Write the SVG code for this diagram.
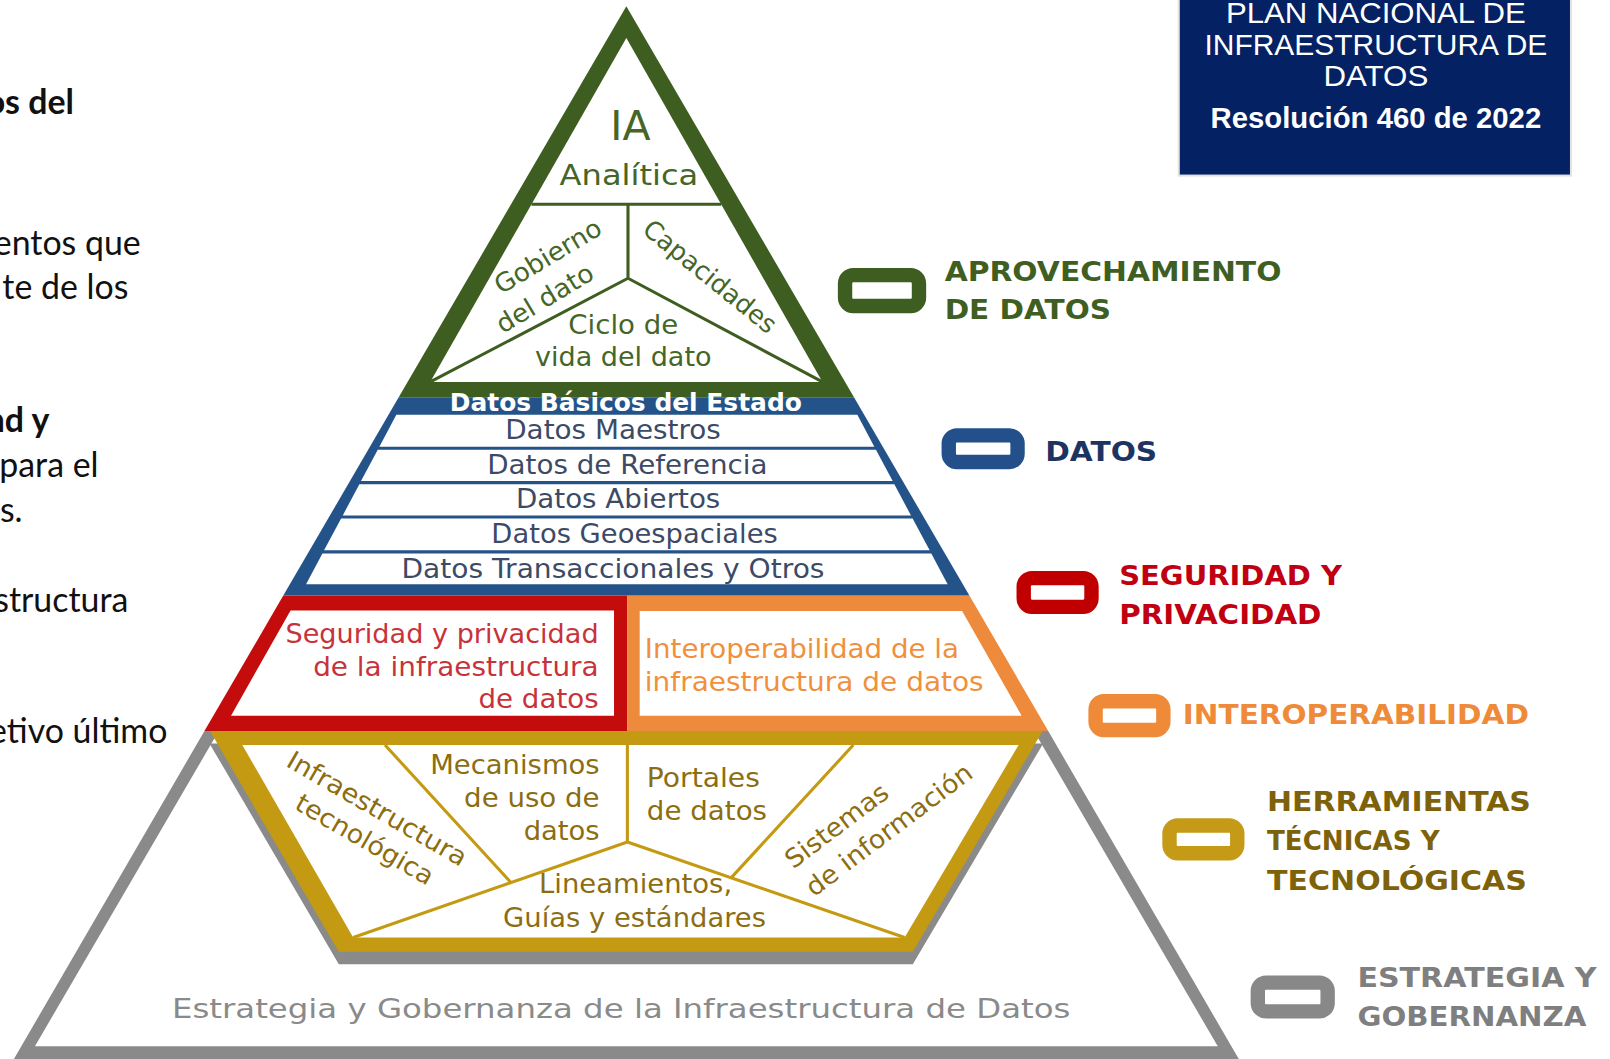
<svg xmlns="http://www.w3.org/2000/svg" width="1610" height="1059" viewBox="0 0 1610 1059">
<style>
.lt{font-family:Lato,"Liberation Sans",sans-serif;font-size:33px;fill:#111}
.ltb{font-family:Lato,"Liberation Sans",sans-serif;font-size:33px;font-weight:bold;fill:#111}
.pt{font-family:"DejaVu Sans",sans-serif;font-size:25px}
.gr{fill:#456628}.bl{fill:#3c4a66}.rd{fill:#c8323a}.or{fill:#f0903c}.gd{fill:#8c6d10}.gy{fill:#8a8a8a}
.lg{font-family:"DejaVu Sans",sans-serif;font-weight:bold;font-size:26px}
.ttl{font-family:"Liberation Sans",Arial,sans-serif;fill:#fff;text-anchor:middle}
.icon{fill:#fff;stroke-width:14}
.gl{stroke:#3e5d20;stroke-width:3;fill:none}
.gdl{stroke:#c49a12;stroke-width:3;fill:none}
</style>
<rect width="1610" height="1059" fill="#fff"/>
<g transform="scale(1.02679)">
<g id="left-text">
<text class="ltb" x="72" y="111" text-anchor="end">os del</text>
<text class="lt" x="137" y="248" text-anchor="end">entos que</text>
<text class="lt" x="125" y="291" text-anchor="end">te de los</text>
<text class="ltb" x="48" y="421" text-anchor="end">nd y</text>
<text class="lt" x="96" y="465" text-anchor="end">para el</text>
<text class="lt" x="22" y="508" text-anchor="end">s.</text>
<text class="lt" x="125" y="596" text-anchor="end">structura</text>
<text class="lt" x="163" y="724" text-anchor="end">etivo último</text>
</g>
<g id="title-box">
<rect x="1148" y="-4" width="382" height="175" fill="#032163" stroke="#e2e2e2" stroke-width="2"/>
<text class="ttl" x="1340" y="22" font-size="28" textLength="292" lengthAdjust="spacingAndGlyphs">PLAN NACIONAL DE</text>
<text class="ttl" x="1340" y="53.6" font-size="28" textLength="334" lengthAdjust="spacingAndGlyphs">INFRAESTRUCTURA DE</text>
<text class="ttl" x="1340" y="84" font-size="28" textLength="102" lengthAdjust="spacingAndGlyphs">DATOS</text>
<text class="ttl" x="1340" y="125" font-size="28" font-weight="bold" textLength="322" lengthAdjust="spacingAndGlyphs">Resolución 460 de 2022</text>
</g>
<g id="layer-gobernanza">
<polygon points="199.1,712 1020.9,712 1208,1034 12,1034" fill="#8a8a8a"/>
<polygon points="213,712 1007,712 1186,1019 34,1019" fill="#fff"/>
<text class="pt gy" x="605" y="991" font-size="28" text-anchor="middle" textLength="875" lengthAdjust="spacingAndGlyphs">Estrategia y Gobernanza de la Infraestructura de Datos</text>
</g>
<g id="layer-herramientas">
<polygon points="204,724 1016,724 889,939 330,939" fill="#8a8a8a"/>
<polygon points="204,711 1016,711 889,927 330,927" fill="#c49a12"/>
<polygon points="236,725.6 992,725.6 881,913 344,913" fill="#fff"/>
<path class="gdl" d="M611,725.6V820M611,820L344,913M611,820L881,913M375,725.6L498,860M831,725.6L712,855"/>
<g class="pt gd">
<text transform="translate(363,795) rotate(30)" text-anchor="middle" textLength="198" lengthAdjust="spacingAndGlyphs">Infraestructura</text>
<text transform="translate(351,825) rotate(30)" text-anchor="middle" textLength="151" lengthAdjust="spacingAndGlyphs">tecnológica</text>
<text x="584" y="754" text-anchor="end" textLength="165" lengthAdjust="spacingAndGlyphs">Mecanismos</text>
<text x="584" y="786" text-anchor="end" textLength="132" lengthAdjust="spacingAndGlyphs">de uso de</text>
<text x="584" y="818" text-anchor="end" textLength="74" lengthAdjust="spacingAndGlyphs">datos</text>
<text x="630" y="766" textLength="110" lengthAdjust="spacingAndGlyphs">Portales</text>
<text x="630" y="799" textLength="117" lengthAdjust="spacingAndGlyphs">de datos</text>
<text transform="translate(820,811) rotate(-37)" text-anchor="middle" textLength="119" lengthAdjust="spacingAndGlyphs">Sistemas</text>
<text transform="translate(871,815) rotate(-37)" text-anchor="middle" textLength="196" lengthAdjust="spacingAndGlyphs">de información</text>
<text x="619" y="870" text-anchor="middle" textLength="188" lengthAdjust="spacingAndGlyphs">Lineamientos,</text>
<text x="618" y="903" text-anchor="middle" textLength="256" lengthAdjust="spacingAndGlyphs">Guías y estándares</text>
</g>
</g>
<g id="layer-seguridad">
<polygon points="275.9,580 611,580 611,712 199.1,712" fill="#c40c0c"/>
<polygon points="283,594.5 598,594.5 598,697 225,697" fill="#fff"/>
<g class="pt rd">
<text x="583" y="626" text-anchor="end" textLength="305" lengthAdjust="spacingAndGlyphs">Seguridad y privacidad</text>
<text x="583" y="658" text-anchor="end" textLength="278" lengthAdjust="spacingAndGlyphs">de la infraestructura</text>
<text x="583" y="690" text-anchor="end" textLength="117" lengthAdjust="spacingAndGlyphs">de datos</text>
</g>
</g>
<g id="layer-interoperabilidad">
<polygon points="611,580 944.1,580 1020.9,712 611,712" fill="#ee8a3c"/>
<polygon points="623,595 937,595 995,697 623,697" fill="#fff"/>
<g class="pt or">
<text x="628" y="641" textLength="306" lengthAdjust="spacingAndGlyphs">Interoperabilidad de la</text>
<text x="628" y="673" textLength="330" lengthAdjust="spacingAndGlyphs">infraestructura de datos</text>
</g>
</g>
<g id="layer-datos">
<polygon points="388.3,387 831.7,387 944.1,580 275.9,580" fill="#245389"/>
<g fill="#fff">
<polygon points="386,404 835,404 851.5,435 369.5,435"/>
<polygon points="367.9,438 853.1,438 869.4,468.5 351.6,468.5"/>
<polygon points="350,471.5 871,471.5 887.2,502 333.8,502"/>
<polygon points="332.2,505 888.8,505 905.4,536 315.6,536"/>
<polygon points="314,539 907,539 922.9,569 298.1,569"/>
</g>
<g class="pt bl" text-anchor="middle">
<text x="597" y="428" textLength="210" lengthAdjust="spacingAndGlyphs">Datos Maestros</text>
<text x="611" y="462" textLength="273" lengthAdjust="spacingAndGlyphs">Datos de Referencia</text>
<text x="602" y="495" textLength="199" lengthAdjust="spacingAndGlyphs">Datos Abiertos</text>
<text x="618" y="529" textLength="279" lengthAdjust="spacingAndGlyphs">Datos Geoespaciales</text>
<text x="597" y="563" textLength="412" lengthAdjust="spacingAndGlyphs">Datos Transaccionales y Otros</text>
</g>
</g>
<g id="layer-aprovechamiento">
<polygon points="610,6 831.7,387 388.3,387" fill="#3e5d20"/>
<polygon points="610,37 801,372 419,372" fill="#fff"/>
<path class="gl" d="M517.6,199H702.4M611.6,199V271M611.6,271L419,372M611.6,271L801,372"/>
<g class="pt gr" text-anchor="middle">
<text x="614" y="136" font-size="40">IA</text>
<text x="612.5" y="180" font-size="27" textLength="135" lengthAdjust="spacingAndGlyphs">Analítica</text>
<text transform="translate(538,257) rotate(-31)" textLength="117" lengthAdjust="spacingAndGlyphs">Gobierno</text>
<text transform="translate(535,298) rotate(-31)" textLength="106" lengthAdjust="spacingAndGlyphs">del dato</text>
<text transform="translate(686,276) rotate(39)" textLength="159" lengthAdjust="spacingAndGlyphs">Capacidades</text>
<text x="607" y="325" textLength="107" lengthAdjust="spacingAndGlyphs">Ciclo de</text>
<text x="607" y="356" textLength="172" lengthAdjust="spacingAndGlyphs">vida del dato</text>
</g>
<text x="609.5" y="400" font-family="DejaVu Sans,sans-serif" font-weight="bold" font-size="24" fill="#fff" text-anchor="middle" textLength="343" lengthAdjust="spacingAndGlyphs">Datos Básicos del Estado</text>
</g>
<g id="legend-aprovechamiento">
<rect class="icon" x="823" y="268" width="72" height="30" rx="8" stroke="#3e5d20"/>
<text class="lg" x="920" y="274" fill="#3f5e22" textLength="328" lengthAdjust="spacingAndGlyphs">APROVECHAMIENTO</text>
<text class="lg" x="920" y="311" fill="#3f5e22" textLength="162" lengthAdjust="spacingAndGlyphs">DE DATOS</text>
</g>
<g id="legend-datos">
<rect class="icon" x="924" y="424" width="67" height="26" rx="8" stroke="#23508a"/>
<text class="lg" x="1018" y="449" fill="#1d3461" textLength="109" lengthAdjust="spacingAndGlyphs">DATOS</text>
</g>
<g id="legend-seguridad">
<rect class="icon" x="997" y="563" width="66" height="28" rx="8" stroke="#c00000"/>
<text class="lg" x="1090" y="570" fill="#c00012" textLength="217" lengthAdjust="spacingAndGlyphs">SEGURIDAD Y</text>
<text class="lg" x="1090" y="608" fill="#c00012" textLength="197" lengthAdjust="spacingAndGlyphs">PRIVACIDAD</text>
</g>
<g id="legend-interoperabilidad">
<rect class="icon" x="1067" y="683" width="66" height="28" rx="8" stroke="#ef8a38"/>
<text class="lg" x="1152" y="705" fill="#ef8a38" textLength="337" lengthAdjust="spacingAndGlyphs">INTEROPERABILIDAD</text>
</g>
<g id="legend-herramientas">
<rect class="icon" x="1139" y="804" width="66" height="27" rx="8" stroke="#c59a16"/>
<text class="lg" x="1234" y="790" fill="#7d6209" textLength="257" lengthAdjust="spacingAndGlyphs">HERRAMIENTAS</text>
<text class="lg" x="1234" y="828" fill="#7d6209" textLength="168" lengthAdjust="spacingAndGlyphs">TÉCNICAS Y</text>
<text class="lg" x="1234" y="867" fill="#7d6209" textLength="253" lengthAdjust="spacingAndGlyphs">TECNOLÓGICAS</text>
</g>
<g id="legend-estrategia">
<rect class="icon" x="1225" y="957" width="68" height="28" rx="8" stroke="#888"/>
<text class="lg" x="1322" y="961" fill="#7f7f7f" textLength="233" lengthAdjust="spacingAndGlyphs">ESTRATEGIA Y</text>
<text class="lg" x="1322" y="999" fill="#7f7f7f" textLength="223" lengthAdjust="spacingAndGlyphs">GOBERNANZA</text>
</g>
</g>
</svg>
